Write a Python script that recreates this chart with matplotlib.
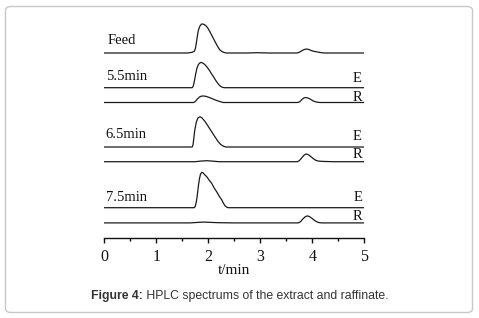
import matplotlib
matplotlib.use("Agg")
import matplotlib.pyplot as plt
from matplotlib.patches import FancyBboxPatch
from matplotlib.ticker import MultipleLocator

# ---- data (time in min, signal in arbitrary units) ----
feed_t = [0.0, 1.60, 1.68, 1.725, 1.75, 1.77, 1.79, 1.81, 1.84, 1.87, 1.91, 1.95, 1.99, 2.03, 2.08,
          2.13, 2.18, 2.22, 2.27, 2.32, 2.36, 2.75, 2.95, 3.15, 3.70, 3.74, 3.79, 3.84, 3.89, 3.94,
          3.99, 4.05, 4.12, 4.18, 4.24, 5.0]
feed_s = [0.0, 0.0, 0.6, 1.5, 4.0, 10.0, 17.0, 23.0, 27.0, 29.0, 28.8, 27.5, 25.0, 21.3, 16.3,
          11.3, 6.5, 3.2, 1.2, 0.3, 0.0, 0.0, 0.3, 0.0, 0.0, 0.5, 2.0, 3.4, 4.0, 3.4,
          2.2, 1.5, 0.8, 0.3, 0.0, 0.0]

e55_t = [0.0, 1.69, 1.71, 1.73, 1.755, 1.78, 1.81, 1.85, 1.89, 1.93, 1.97, 2.02, 2.06, 2.10, 2.14,
         2.19, 2.23, 2.27, 2.31, 5.0]
e55_s = [0.0, 0.0, 1.5, 6.0, 13.0, 19.3, 23.3, 25.3, 24.8, 23.3, 21.0, 17.5, 14.0, 11.0, 7.5,
         3.8, 1.6, 0.4, 0.0, 0.0]

r55_t = [0.0, 1.72, 1.75, 1.79, 1.83, 1.87, 1.91, 1.96, 2.02, 2.09, 2.16, 2.23, 2.29, 3.72, 3.76,
         3.80, 3.84, 3.87, 3.91, 3.96, 4.01, 4.06, 4.11, 4.15, 5.0]
r55_s = [0.0, 0.0, 1.0, 3.5, 5.5, 6.4, 6.5, 6.1, 5.0, 3.5, 2.0, 0.8, 0.0, 0.0, 0.8,
         3.0, 4.6, 5.0, 4.6, 3.4, 1.8, 0.7, 0.2, 0.0, 0.0]

e65_t = [0.0, 1.69, 1.705, 1.72, 1.74, 1.77, 1.80, 1.84, 1.88, 1.94, 2.00, 2.065, 2.13, 2.19, 2.24,
         2.29, 2.34, 5.0]
e65_s = [0.0, 0.0, 2.0, 8.0, 17.0, 25.0, 29.0, 30.3, 29.0, 25.3, 20.5, 15.3, 10.0, 5.3, 2.5,
         0.8, 0.0, 0.0]

r65_t = [0.0, 1.75, 1.85, 1.97, 2.08, 2.20, 3.71, 3.75, 3.80, 3.84, 3.88, 3.92, 3.97, 4.02, 4.07,
         4.12, 4.20, 4.40, 5.0]
r65_s = [0.0, 0.0, 0.6, 1.0, 0.6, 0.0, 0.0, 1.0, 4.0, 6.5, 7.7, 7.2, 5.2, 3.0, 1.3,
         0.6, 0.3, 0.0, 0.0]

e75_t = [0.0, 1.73, 1.75, 1.77, 1.79, 1.81, 1.83, 1.85, 1.875, 1.90, 1.93, 1.97, 2.01, 2.065, 2.11,
         2.16, 2.21, 2.26, 2.29, 2.32, 2.35, 2.38, 5.0]
e75_s = [0.0, 0.0, 1.5, 6.0, 13.0, 22.0, 29.0, 33.5, 35.4, 34.8, 33.0, 31.0, 28.0, 24.4, 20.0,
         16.0, 11.5, 7.7, 4.5, 2.0, 0.7, 0.0, 0.0]

r75_t = [0.0, 1.65, 1.80, 1.90, 2.00, 2.20, 2.50, 3.73, 3.77, 3.81, 3.86, 3.90, 3.94, 3.99, 4.04,
         4.09, 4.13, 4.18, 5.0]
r75_s = [0.0, 0.0, 0.5, 0.8, 0.6, 0.2, 0.0, 0.0, 1.0, 3.5, 6.0, 7.0, 6.5, 4.7, 2.6,
         1.0, 0.3, 0.0, 0.0]

x_ticks = [0, 1, 2, 3, 4, 5]
x_ticklabels = ["0", "1", "2", "3", "4", "5"]
group_labels = ["Feed", "5.5min", "6.5min", "7.5min"]

# ---- layout ----
W, H = 479, 318
fig = plt.figure(figsize=(W / 100, H / 100), dpi=100)
fig.patch.set_facecolor("white")

border = FancyBboxPatch((5.5 / W, 5.5 / H), (W - 12) / W, (H - 12) / H,
                        boxstyle="round,pad=0,rounding_size=0.012",
                        transform=fig.transFigure, facecolor="none",
                        edgecolor="#c8c8c8", linewidth=1.0, zorder=-10)
fig.patches.append(border)

ax_left, ax_right = 104.3, 364.3
ax_bot, ax_top = 237.7, 10.0
ax = fig.add_axes([ax_left / W, 1 - ax_bot / H, (ax_right - ax_left) / W, (ax_bot - ax_top) / H])
ax.set_xlim(0, 5)
ax.set_ylim(0, ax_bot - ax_top)
ax.patch.set_alpha(0)

serif = "Liberation Serif"
lc = "#1a1a1a"

curves = [
    (feed_t, feed_s, 184.7),
    (e55_t, e55_s, 150.0),
    (r55_t, r55_s, 135.2),
    (e65_t, e65_s, 90.7),
    (r65_t, r65_s, 76.0),
    (e75_t, e75_s, 30.0),
    (r75_t, r75_s, 14.8),
]
for t, s, off in curves:
    ax.plot(t, [v + off for v in s], color=lc, lw=0.9, solid_joinstyle="round")

fs = 10.5
# group labels
ax.text(0.06, 197.0, group_labels[0], fontsize=fs, family=serif, va="center", ha="left", color="#111")
ax.text(0.03, 161.7, group_labels[1], fontsize=fs, family=serif, va="center", ha="left", color="#111")
ax.text(0.03, 102.7, group_labels[2], fontsize=fs, family=serif, va="center", ha="left", color="#111")
ax.text(0.03, 40.0, group_labels[3], fontsize=fs, family=serif, va="center", ha="left", color="#111")
# E / R labels
for y, lab, xr in [(159.7, "E", 4.95), (140.4, "R", 4.955), (101.0, "E", 4.95),
                   (83.0, "R", 4.955), (40.0, "E", 4.97), (20.7, "R", 4.96)]:
    ax.text(xr, y, lab, fontsize=fs, family=serif, va="center", ha="right", color="#111")

for sp in ["left", "right", "top"]:
    ax.spines[sp].set_visible(False)
ax.spines["bottom"].set_linewidth(1.0)
ax.spines["bottom"].set_color("#111")
ax.set_yticks([])
ax.set_xticks(x_ticks)
ax.set_xticklabels(x_ticklabels, family=serif, fontsize=11.5)
ax.xaxis.set_minor_locator(MultipleLocator(0.5))
ax.tick_params(axis="x", which="major", direction="out", length=3.4, width=1.0, pad=4.5, colors="#111")
ax.tick_params(axis="x", which="minor", direction="out", length=2.0, width=1.0)
ax.set_xlabel("t/min", family=serif, fontsize=11, labelpad=-0.5, color="#111")

# caption
fig.canvas.draw()
r = fig.canvas.get_renderer()
cap_fs = 8.8
t1 = fig.text(0, 0, "Figure 4:", fontsize=cap_fs, family="Liberation Sans", weight="bold", color="#333")
t2 = fig.text(0, 0, " HPLC spectrums of the extract and raffinate.", fontsize=cap_fs,
              family="Liberation Sans", color="#333")
w1 = t1.get_window_extent(r).width
w2 = t2.get_window_extent(r).width
x0 = (W - (w1 + w2)) / 2
yc = 1 - 296 / H
t1.set_position((x0 / W, yc)); t1.set_va("center")
t2.set_position(((x0 + w1) / W, yc)); t2.set_va("center")

fig.savefig("out.png", dpi=100)
